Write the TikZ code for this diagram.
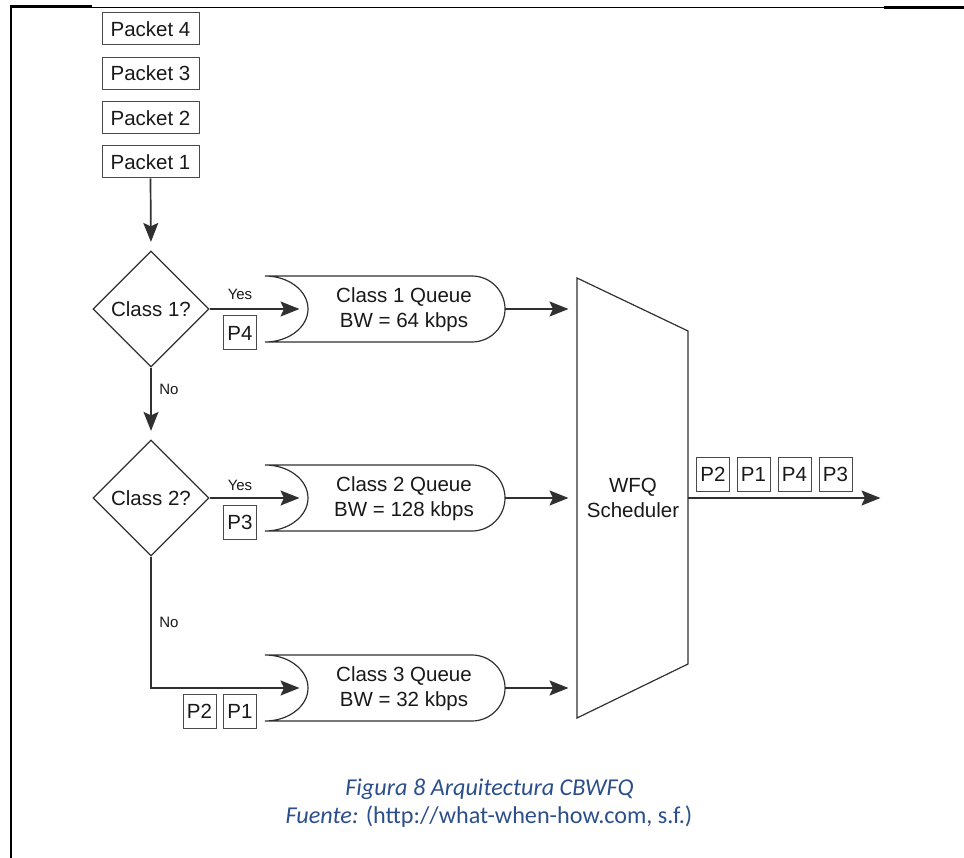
\documentclass[tikz,border=0pt]{standalone}
\usepackage{fontspec}
\setmainfont{Liberation Sans}
\newfontfamily\capfont{Carlito}
\usetikzlibrary{shapes.geometric,arrows.meta}
\definecolor{ink}{HTML}{303030}
\definecolor{boxline}{HTML}{4A4A4A}
\definecolor{capblue}{HTML}{2B4F8C}
\tikzset{
  main/.style={font=\fontsize{20.5}{25}\selectfont, text=black!90},
  small/.style={font=\fontsize{15}{18}\selectfont, text=black!90},
  packetbox/.style={main, draw=boxline, line width=1pt, minimum width=97pt, minimum height=32pt, inner sep=0pt},
  pbox/.style={main, draw=boxline, line width=1pt, minimum width=33pt, minimum height=34pt, inner sep=0pt},
  decision/.style={main, diamond, draw=ink, line width=1.2pt, minimum width=116pt, minimum height=116pt, aspect=1, inner sep=0pt},
  queueline/.style={draw=ink, line width=1.2pt},
  flow/.style={draw=ink, line width=1.7pt, -{Stealth[length=19pt, width=15pt, inset=3.5pt]}, shorten >=8.5pt},
  captext/.style={text=capblue, font=\capfont\fontsize{24.2}{29}\selectfont, anchor=base, inner sep=0pt}
}
\begin{document}
\begin{tikzpicture}[x=1pt, y=-1pt]
\useasboundingbox (0,0) rectangle (964,858);

% page frame lines
\draw[line width=2.6pt] (10,6.5) -- (92,6.5);
\draw[line width=1.3pt] (92,7.4) -- (884,7.4);
\draw[line width=2.3pt] (884,7.6) -- (964,7.6);
\draw[line width=2.2pt] (11.2,5.2) -- (11.2,858);

% incoming packets
\node[packetbox] (pk4) at (150.5,29) {Packet 4};
\node[packetbox] (pk3) at (150.5,73.5) {Packet 3};
\node[packetbox] (pk2) at (150.5,118) {Packet 2};
\node[packetbox] (pk1) at (150.5,162) {Packet 1};

% classification decisions
\node[decision] (c1) at (151,309) {Class 1?};
\node[decision] (c2) at (151,498) {Class 2?};

% queues: concave inlet on the left, rounded outlet on the right
\foreach \n/\yy in {1/309, 2/498, 3/688} {
  \draw[queueline] (265,\yy-33) -- (472,\yy-33)
    arc[start angle=90, end angle=-90, radius=33pt]
    -- (265,\yy+33)
    arc[start angle=-90, end angle=90, x radius=43pt, y radius=33pt] -- cycle;
  \coordinate (q\n in) at (308,\yy);
  \coordinate (q\n out) at (505,\yy);
  \coordinate (s\n in) at (577,\yy);
}
\node[main, align=center] (q1) at (404,309.5) {Class 1 Queue\\BW = 64 kbps};
\node[main, align=center] (q2) at (404,498.5) {Class 2 Queue\\BW = 128 kbps};
\node[main, align=center] (q3) at (404,688.5) {Class 3 Queue\\BW = 32 kbps};

% WFQ scheduler
\coordinate (stl) at (577,278);
\coordinate (str) at (688,331);
\coordinate (sbr) at (688,664);
\coordinate (sbl) at (577,718);
\draw[queueline] (stl) -- (str) -- (sbr) -- (sbl) -- cycle;
\node[main, align=center] (wfq) at (633,498) {WFQ\\Scheduler};
\coordinate (sout) at (688,498);
\coordinate (link) at (889,498);

% flow
\draw[flow] (pk1.south) -- (c1.north);
\draw[flow] (c1.east) -- (q1in);
\draw[flow] (c1.south) -- (c2.north);
\draw[flow] (c2.east) -- (q2in);
\draw[flow] (c2.south) |- (q3in);
\draw[flow] (q1out) -- (s1in);
\draw[flow] (q2out) -- (s2in);
\draw[flow] (q3out) -- (s3in);
\draw[flow] (sout) -- (link);

% branch labels
\node[small] (y1) at (240,294) {Yes};
\node[small] (y2) at (240,485) {Yes};
\node[small] (n1) at (169,389) {No};
\node[small] (n2) at (169,622) {No};

% packets waiting in queues
\node[pbox] (p4) at (240,333) {P4};
\node[pbox] (p3) at (240,522) {P3};
\node[pbox] (p2) at (199.5,711.5) {P2};
\node[pbox] (p1) at (240,711.5) {P1};

% scheduled output order
\node[pbox] (o1) at (713,474) {P2};
\node[pbox] (o2) at (753.5,474) {P1};
\node[pbox] (o3) at (794.5,474) {P4};
\node[pbox] (o4) at (835.5,474) {P3};

% caption
\node[captext] (cap1) at (489.5,795) {\itshape Figura 8 Arquitectura CBWFQ};
\node[captext] (cap2) at (489,823) {{\itshape Fuente:} (http://what-when-how.com, s.f.)};
\end{tikzpicture}
\end{document}
